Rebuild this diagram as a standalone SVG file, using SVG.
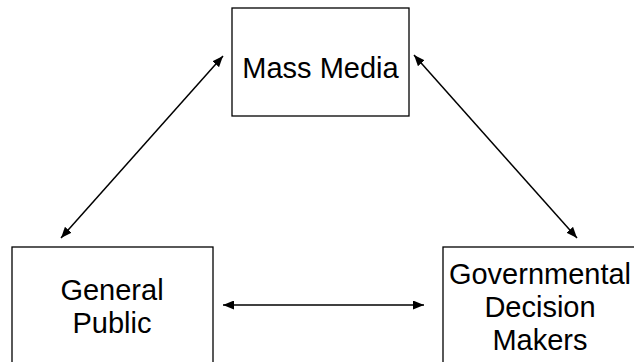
<svg xmlns="http://www.w3.org/2000/svg" width="634" height="362" viewBox="0 0 634 362">
<style>
.box{fill:#fff;stroke:#000;stroke-width:1.3}
.lbl{font-family:"Liberation Sans",Arial,sans-serif;font-size:29px;fill:#000;text-anchor:middle}
.conn{stroke:#000;stroke-width:1.5;fill:none;marker-start:url(#ah);marker-end:url(#ah)}
</style>
<defs>
<marker id="ah" viewBox="0 0 11 9" refX="11" refY="4.5" markerWidth="11" markerHeight="9" markerUnits="userSpaceOnUse" orient="auto-start-reverse">
<path d="M0,0 L11,4.5 L0,9 Z" fill="#000"/>
</marker>
</defs>
<rect width="634" height="362" fill="#fff"/>
<g id="mass-media">
<rect class="box" x="232" y="8" width="177" height="108"/>
<text class="lbl" x="320.5" y="78">Mass Media</text>
</g>
<g id="general-public">
<rect class="box" x="12" y="247" width="201" height="130"/>
<text class="lbl" x="112" y="300">General</text>
<text class="lbl" x="112" y="333">Public</text>
</g>
<g id="governmental">
<rect class="box" x="443" y="247" width="200" height="130"/>
<text class="lbl" x="540" y="284">Governmental</text>
<text class="lbl" x="540" y="317">Decision</text>
<text class="lbl" x="540" y="350">Makers</text>
</g>
<g id="connectors">
<line class="conn" x1="61" y1="238" x2="223" y2="56"/>
<line class="conn" x1="414" y1="55" x2="577" y2="238"/>
<line class="conn" x1="223" y1="305" x2="424" y2="305"/>
</g>
</svg>
